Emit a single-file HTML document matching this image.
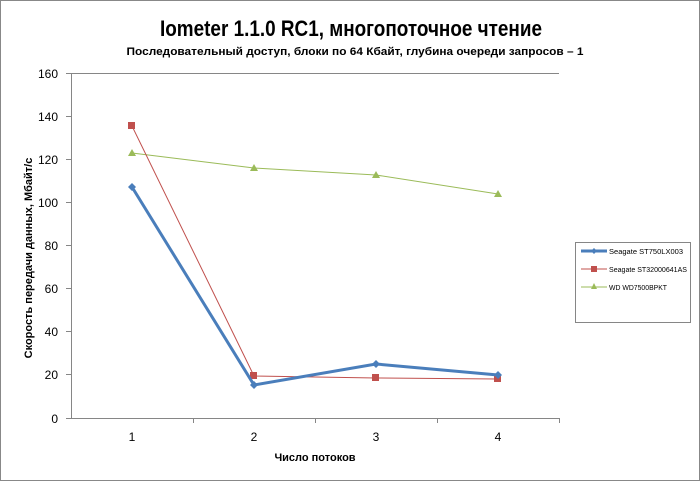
<!DOCTYPE html>
<html><head><meta charset="utf-8"><style>
body{margin:0;background:#fff}
</style></head><body>
<svg width="700" height="481" xmlns="http://www.w3.org/2000/svg" font-family="Liberation Sans, sans-serif">
<rect x="0.5" y="0.5" width="699" height="480" fill="#fff" stroke="#888"/>
<text x="351" y="36" text-anchor="middle" font-size="22" font-weight="bold" textLength="382" lengthAdjust="spacingAndGlyphs">Iometer 1.1.0 RC1, многопоточное чтение</text>
<text x="355" y="55" text-anchor="middle" font-size="11" font-weight="bold" textLength="457" lengthAdjust="spacingAndGlyphs">Последовательный  доступ, блоки  по 64 Кбайт,  глубина очереди запросов  – 1</text>
<g stroke="#868686" stroke-width="1" fill="none">
<line x1="71" y1="73.5" x2="559" y2="73.5"/>
<line x1="71.5" y1="73" x2="71.5" y2="418"/>
<line x1="71" y1="418.5" x2="559" y2="418.5"/>
<path d="M66 73.5h5M66 116.5h5M66 159.5h5M66 202.5h5M66 245.5h5M66 288.5h5M66 331.5h5M66 374.5h5M66 418.5h5"/>
<path d="M193.5 418v5M315.5 418v5M437.5 418v5M559.5 418v5"/>
</g>
<g font-size="12" text-anchor="end" fill="#000">
<text x="58" y="78">160</text><text x="58" y="121">140</text><text x="58" y="164">120</text><text x="58" y="207">100</text><text x="58" y="250">80</text><text x="58" y="293">60</text><text x="58" y="336">40</text><text x="58" y="379">20</text><text x="58" y="423">0</text>
</g>
<g font-size="12" text-anchor="middle">
<text x="132" y="441">1</text><text x="254" y="441">2</text><text x="376" y="441">3</text><text x="498" y="441">4</text>
</g>
<text x="315" y="461" text-anchor="middle" font-size="11" font-weight="bold">Число  потоков</text>
<text transform="translate(32,258) rotate(-90)" text-anchor="middle" font-size="11" font-weight="bold">Скорость  передачи данных, Мбайт/с</text>
<polyline points="132,153 254,168 376,175 498,194" fill="none" stroke="#9bbb59" stroke-width="1"/>
<g fill="#9bbb59"><path d="M132,149l4,7h-8z"/><path d="M254,164l4,7h-8z"/><path d="M376,171l4,7h-8z"/><path d="M498,190l4,7h-8z"/></g>
<polyline points="132,126 254,376 376,378 498,379" fill="none" stroke="#c0504d" stroke-width="1"/>
<g fill="#c0504d"><rect x="128" y="122" width="7" height="7"/><rect x="250" y="372" width="7" height="7"/><rect x="372" y="374" width="7" height="7"/><rect x="494" y="375" width="7" height="7"/></g>
<polyline points="132,187 254,385 376,364 498,375" fill="none" stroke="#4a7ebb" stroke-width="3"/>
<g fill="#4a7ebb"><path d="M132,183l4,4-4,4-4-4z"/><path d="M254,381l4,4-4,4-4-4z"/><path d="M376,360l4,4-4,4-4-4z"/><path d="M498,371l4,4-4,4-4-4z"/></g>
<rect x="575.5" y="242.5" width="115" height="80" fill="#fff" stroke="#868686"/>
<line x1="581" y1="251" x2="607" y2="251" stroke="#4a7ebb" stroke-width="3"/><path d="M594,248l3,3-3,3-3-3z" fill="#4a7ebb"/>
<line x1="581" y1="269" x2="607" y2="269" stroke="#c0504d"/><rect x="591" y="266" width="6" height="6" fill="#c0504d"/>
<line x1="581" y1="287" x2="607" y2="287" stroke="#9bbb59"/><path d="M594,283l3,6h-6z" fill="#9bbb59"/>
<g font-size="7"><text x="609" y="254" textLength="74" lengthAdjust="spacingAndGlyphs">Seagate ST750LX003</text><text x="609" y="272" textLength="78" lengthAdjust="spacingAndGlyphs">Seagate ST32000641AS</text><text x="609" y="290" textLength="58" lengthAdjust="spacingAndGlyphs">WD WD7500BPKT</text></g>
</svg>
</body></html>
